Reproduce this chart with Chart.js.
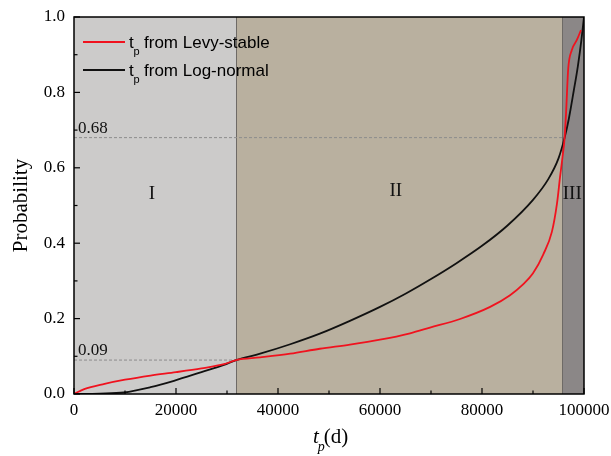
<!DOCTYPE html>
<html>
<head>
<meta charset="utf-8">
<script src="https://cdn.jsdelivr.net/npm/chart.js@4"></script>
<style>
  html, body { margin: 0; padding: 0; background: #fff; }
  canvas { display: block; }
</style>
</head>
<body>
<canvas id="c" width="611" height="456"></canvas>
<script>
// Cumulative probability of t_p (days) for the two fitted distributions
const levyT = [0, 2000, 6000, 10000, 15000, 20000, 25000, 29400, 31800, 36500, 42400, 48200, 54100, 60000, 65900, 69800, 75700, 81600, 85500, 88000, 90000, 92000, 93700, 94700, 95300, 95800, 96200, 96500, 96900, 97600, 98600, 99400];
const levyP = [0, 0.013, 0.027, 0.038, 0.049, 0.058, 0.068, 0.079, 0.09, 0.097, 0.107, 0.12, 0.131, 0.144, 0.161, 0.176, 0.199, 0.231, 0.262, 0.29, 0.32, 0.37, 0.43, 0.505, 0.575, 0.63, 0.68, 0.75, 0.862, 0.912, 0.939, 0.965];

const logT = [0, 5000, 9800, 15000, 19600, 25000, 29400, 31800, 36500, 42400, 48200, 54100, 60000, 65000, 70000, 75000, 80000, 85000, 90000, 93000, 95000, 96200, 97000, 98000, 98800, 99500, 100000];
const logP = [0, 0.001, 0.004, 0.018, 0.035, 0.058, 0.077, 0.09, 0.107, 0.132, 0.16, 0.194, 0.231, 0.266, 0.305, 0.347, 0.393, 0.447, 0.515, 0.57, 0.625, 0.68, 0.728, 0.805, 0.87, 0.94, 1.0];

// Regions I / II / III and reference levels
const regionEdges = [0, 31800, 95700, 100000];
const regionNames = ['I', 'II', 'III'];
const regionColors = ['#cccbca', '#b9b09f', '#8b8787'];
const refLevels = [0.68, 0.09];
const refEnds = [96200, 31800];

const seriesNames = ['from Levy-stable', 'from Log-normal'];
const seriesColors = ['#f0121e', '#111111'];

const xTicks = [0, 20000, 40000, 60000, 80000, 100000];
const yTicks = [0.0, 0.2, 0.4, 0.6, 0.8, 1.0];

const toXY = (xs, ys) => xs.map((x, i) => ({ x: x, y: ys[i] }));

const datasets = [
  { data: toXY(levyT, levyP), borderColor: seriesColors[0], borderWidth: 1.8,
    pointRadius: 0, cubicInterpolationMode: 'monotone', fill: false },
  { data: toXY(logT, logP), borderColor: seriesColors[1], borderWidth: 1.8,
    pointRadius: 0, cubicInterpolationMode: 'monotone', fill: false },
];
refLevels.forEach((lv, i) => {
  datasets.push({ data: [{ x: 0, y: lv }, { x: refEnds[i], y: lv }],
    borderColor: '#8c8c8c', borderWidth: 1, borderDash: [3, 2],
    pointRadius: 0, fill: false });
});

const SERIF = '"Liberation Serif", "Times New Roman", serif';
const SANS = '"Liberation Sans", Arial, sans-serif';

const decor = {
  id: 'decor',
  beforeDatasetsDraw(chart) {
    const { ctx, chartArea: a, scales: { x, y } } = chart;
    ctx.save();
    for (let i = 0; i < regionNames.length; i++) {
      const x0 = x.getPixelForValue(regionEdges[i]);
      const x1 = x.getPixelForValue(regionEdges[i + 1]);
      ctx.fillStyle = regionColors[i];
      ctx.fillRect(x0, a.top, x1 - x0, a.bottom - a.top);
    }
    ctx.strokeStyle = '#6e6a66';
    ctx.lineWidth = 1;
    for (let i = 1; i < regionEdges.length - 1; i++) {
      const px = Math.round(x.getPixelForValue(regionEdges[i])) + 0.5;
      ctx.beginPath(); ctx.moveTo(px, a.top); ctx.lineTo(px, a.bottom); ctx.stroke();
    }
    // region names
    ctx.fillStyle = '#111';
    ctx.font = '19px ' + SERIF;
    ctx.textAlign = 'center';
    ctx.textBaseline = 'alphabetic';
    const namePos = [[15300, 199], [63100, 196], [97700, 199]];
    regionNames.forEach((n, i) => {
      ctx.fillText(n, x.getPixelForValue(namePos[i][0]), namePos[i][1]);
    });
    // reference level labels
    ctx.font = '17px ' + SERIF;
    ctx.textAlign = 'left';
    refLevels.forEach((lv) => {
      ctx.fillText(lv.toFixed(2), a.left + 4, y.getPixelForValue(lv) - 5);
    });
    ctx.restore();
  },
  afterDraw(chart) {
    const { ctx, chartArea: a, scales: { x, y } } = chart;
    ctx.save();
    // frame
    ctx.strokeStyle = '#000';
    ctx.lineWidth = 1.5;
    ctx.strokeRect(a.left, a.top, a.right - a.left, a.bottom - a.top);
    // inward ticks
    ctx.lineWidth = 1.2;
    for (let v = 0; v <= 100000; v += 10000) {
      const px = x.getPixelForValue(v);
      const len = v % 20000 === 0 ? 6 : 3.5;
      ctx.beginPath(); ctx.moveTo(px, a.bottom); ctx.lineTo(px, a.bottom - len); ctx.stroke();
    }
    for (let k = 0; k <= 10; k++) {
      const py = y.getPixelForValue(k / 10);
      const len = k % 2 === 0 ? 6 : 3.5;
      ctx.beginPath(); ctx.moveTo(a.left, py); ctx.lineTo(a.left + len, py); ctx.stroke();
    }
    // axis titles
    ctx.fillStyle = '#000';
    ctx.textBaseline = 'alphabetic';
    ctx.save();
    ctx.translate(27, (a.top + a.bottom) / 2);
    ctx.rotate(-Math.PI / 2);
    ctx.textAlign = 'center';
    ctx.font = '21px ' + SERIF;
    ctx.fillText('Probability', 0, 0);
    ctx.restore();

    ctx.textAlign = 'left';
    ctx.font = 'italic 21px ' + SERIF;
    const tx = 313;
    ctx.fillText('t', tx, 443);
    const tw = ctx.measureText('t').width;
    ctx.font = 'italic 14px ' + SERIF;
    ctx.fillText('p', tx + tw - 1, 451);
    ctx.font = '21px ' + SERIF;
    ctx.fillText('(d)', tx + tw + 5, 443);

    // legend
    const rows = [42, 70];
    seriesNames.forEach((name, i) => {
      ctx.strokeStyle = seriesColors[i];
      ctx.lineWidth = 1.8;
      ctx.beginPath(); ctx.moveTo(83, rows[i]); ctx.lineTo(125, rows[i]); ctx.stroke();
      ctx.fillStyle = '#000';
      ctx.font = '17px ' + SANS;
      ctx.fillText('t', 129, rows[i] + 6);
      ctx.font = '11px ' + SANS;
      ctx.fillText('p', 133.5, rows[i] + 13);
      ctx.font = '17px ' + SANS;
      ctx.fillText(name, 144, rows[i] + 6);
    });
    ctx.restore();
  }
};

new Chart(document.getElementById('c'), {
  type: 'line',
  data: { datasets: datasets },
  plugins: [decor],
  options: {
    responsive: false,
    animation: false,
    events: [],
    layout: { padding: { top: 17, right: 27, left: 0, bottom: 0 } },
    plugins: { legend: { display: false }, tooltip: { enabled: false } },
    scales: {
      x: {
        type: 'linear', min: 0, max: 100000,
        grid: { display: false, drawTicks: false },
        border: { display: false },
        afterBuildTicks: (s) => { s.ticks = xTicks.map(v => ({ value: v })); },
        afterFit: (s) => { s.height = 62; s.paddingLeft = 0; s.paddingRight = 0; },
        ticks: { padding: 6, color: '#000', maxRotation: 0, autoSkip: false,
          font: { family: SERIF, size: 17 }, callback: (v) => String(v) }
      },
      y: {
        type: 'linear', min: 0, max: 1,
        grid: { display: false, drawTicks: false },
        border: { display: false },
        afterBuildTicks: (s) => { s.ticks = yTicks.map(v => ({ value: v })); },
        afterFit: (s) => { s.width = 74; s.paddingTop = 0; s.paddingBottom = 0; },
        ticks: { padding: 9, color: '#000',
          font: { family: SERIF, size: 17 }, callback: (v) => Number(v).toFixed(1) }
      }
    }
  }
});
</script>
</body>
</html>
